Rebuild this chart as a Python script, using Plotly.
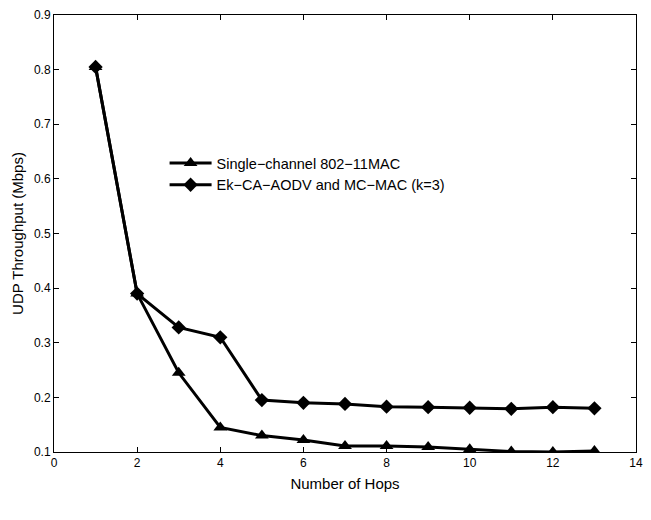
import plotly.graph_objects as go

hops = [1, 2, 3, 4, 5, 6, 7, 8, 9, 10, 11, 12, 13]
single_channel = [0.805, 0.39, 0.245, 0.145, 0.13, 0.122, 0.111, 0.111, 0.109, 0.105, 0.101, 0.100, 0.102]
ek_ca_aodv = [0.805, 0.39, 0.328, 0.31, 0.195, 0.19, 0.188, 0.183, 0.182, 0.181, 0.179, 0.182, 0.180]

x_ticks = [0, 2, 4, 6, 8, 10, 12, 14]
y_ticks = [0.1, 0.2, 0.3, 0.4, 0.5, 0.6, 0.7, 0.8, 0.9]

FONT = "Liberation Sans, Arial, sans-serif"

fig = go.Figure()
fig.add_trace(go.Scatter(
    x=hops, y=single_channel, mode="lines+markers",
    name="Single\u2212channel 802\u221211MAC",
    line=dict(color="black", width=3),
    marker=dict(symbol="triangle-up", size=12, color="black"),
))
fig.add_trace(go.Scatter(
    x=hops, y=ek_ca_aodv, mode="lines+markers",
    name="Ek\u2212CA\u2212AODV and MC\u2212MAC (k=3)",
    line=dict(color="black", width=3),
    marker=dict(symbol="diamond", size=11, color="black"),
))

axis_common = dict(
    showline=True, linecolor="black", linewidth=1, mirror="ticks",
    ticks="inside", ticklen=5, tickcolor="black",
    showgrid=False, zeroline=False,
    tickfont=dict(family=FONT, size=12, color="black"),
)

fig.update_layout(
    width=651, height=520,
    margin=dict(l=54, r=8, t=12, b=68),
    paper_bgcolor="white", plot_bgcolor="white",
    font=dict(family=FONT, color="black"),
    xaxis=dict(range=[0, 14], tickvals=x_ticks, ticktext=[str(v) for v in x_ticks],
               title=dict(text="Number of Hops", font=dict(size=15), standoff=9),
               **axis_common),
    yaxis=dict(range=[0.1, 0.9], tickvals=y_ticks, ticktext=[f"{v:.1f}" for v in y_ticks],
               title=dict(text="UDP Throughput (Mbps)", font=dict(size=15), standoff=6),
               **axis_common),
    legend=dict(x=0.19, y=0.698, xanchor="left", yanchor="top",
                bgcolor="rgba(0,0,0,0)", borderwidth=0,
                font=dict(size=14.5), tracegroupgap=0, itemwidth=42),
    showlegend=True,
)

fig.write_html("out.html")
